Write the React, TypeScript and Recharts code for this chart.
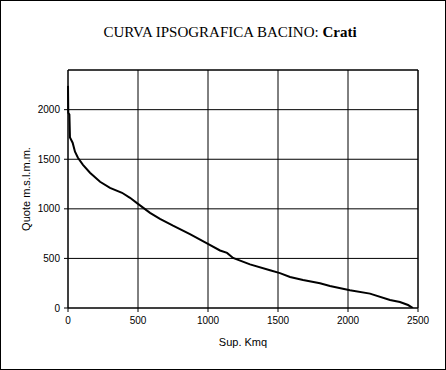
import React from "react";
import {
  LineChart,
  Line,
  XAxis,
  YAxis,
  CartesianGrid,
  ReferenceLine,
  Label,
} from "recharts";

// superficie cumulata (Kmq) e quota (m s.l.m.)
const areas = [
  0, 2, 10, 14, 33, 50, 71, 107, 157, 229, 300, 386, 443, 500, 586, 657,
  750, 871, 993, 1086, 1136, 1179, 1300, 1443, 1514, 1586, 1679, 1800, 1871,
  2014, 2157, 2300, 2371, 2429, 2464,
];
const quotes = [
  2240, 1970, 1950, 1720, 1667, 1576, 1515, 1444, 1364, 1273, 1212,
  1162, 1111, 1050, 960, 899, 830, 745, 652, 580, 556, 505, 440, 380, 352,
  313, 283, 250, 222, 180, 145, 81, 61, 30, 0,
];
const xTicks = [0, 500, 1000, 1500, 2000, 2500];
const yTicks = [0, 500, 1000, 1500, 2000];

const data = areas.map((a, i) => ({ area: a, quota: quotes[i] }));

const tickStyle = { fontSize: 10, fill: "#000", fontFamily: "Liberation Sans, Arial, sans-serif" };

export default function App() {
  return (
    <div
      style={{
        position: "absolute",
        left: 0,
        top: 0,
        width: 446,
        height: 370,
        border: "1px solid #000",
        boxSizing: "border-box",
        background: "#fff",
      }}
    >
      <svg
        width={446}
        height={370}
        style={{ position: "absolute", left: -1, top: -1, pointerEvents: "none" }}
      >
        <text
          x={230}
          y={37}
          textAnchor="middle"
          fontFamily="Liberation Serif, Times New Roman, serif"
          fontSize={15}
          fill="#000"
        >
          CURVA IPSOGRAFICA BACINO:{" "}
          <tspan fontWeight="bold">Crati</tspan>
        </text>
      </svg>
      <div style={{ position: "absolute", left: -1, top: -1 }}>
        <LineChart
          width={446}
          height={370}
          data={data}
          margin={{ top: 70, right: 28, bottom: 32, left: 8 }}
        >
          <CartesianGrid stroke="#000" strokeWidth={1} />
          <XAxis
            dataKey="area"
            type="number"
            domain={[0, 2500]}
            ticks={xTicks}
            height={30}
            tickSize={4}
            tickMargin={5}
            tick={tickStyle}
            stroke="#000"
            tickLine={{ stroke: "#000" }}
            axisLine={{ stroke: "#000" }}
          >
            <Label
              value="Sup. Kmq"
              position="bottom"
              offset={0}
              style={{ fontSize: 11, fill: "#000", fontFamily: "Liberation Sans, Arial, sans-serif" }}
            />
          </XAxis>
          <YAxis
            type="number"
            domain={[0, 2400]}
            ticks={yTicks}
            width={60}
            tickSize={4}
            tickMargin={4}
            tick={tickStyle}
            stroke="#000"
            tickLine={{ stroke: "#000" }}
            axisLine={{ stroke: "#000" }}
            allowDataOverflow
          >
            <Label
              value="Quote m.s.l.m.m."
              angle={-90}
              position="insideLeft"
              offset={18}
              style={{
                fontSize: 11,
                fill: "#000",
                textAnchor: "middle",
                fontFamily: "Liberation Sans, Arial, sans-serif",
              }}
            />
          </YAxis>
          <ReferenceLine y={2400} stroke="#000" />
          <ReferenceLine x={2500} stroke="#000" />
          <Line
            type="linear"
            dataKey="quota"
            stroke="#000"
            strokeWidth={2}
            dot={false}
            isAnimationActive={false}
          />
        </LineChart>
      </div>
    </div>
  );
}
